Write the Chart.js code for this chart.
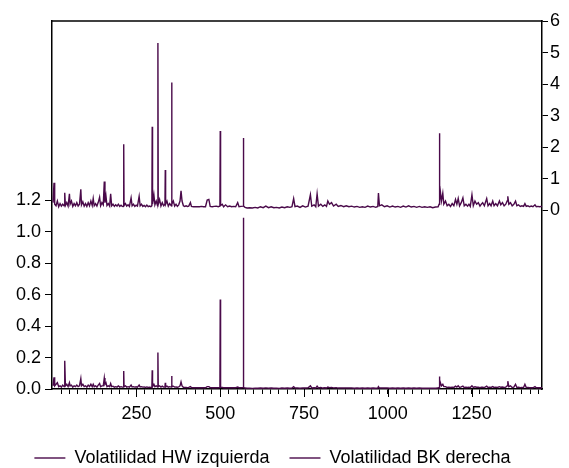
<!DOCTYPE html>
<html>
<head>
<meta charset="utf-8">
<script src="https://cdn.jsdelivr.net/npm/chart.js@4.4.0/dist/chart.umd.min.js"></script>
<style>
  html, body { margin: 0; padding: 0; background: #fff; }
  #wrap { width: 569px; height: 468px; }
</style>
</head>
<body>
<div id="wrap"><canvas id="volChart" width="569" height="468"></canvas></div>
<script>
const obs = [
  1, 4, 6, 10, 14, 18, 22, 26, 30, 34, 36, 38, 42, 46, 50, 52, 56, 60, 64, 68,
  72, 76, 80, 84, 86, 90, 94, 98, 102, 106, 110, 114, 118, 121, 124, 128, 132, 136, 140, 143,
  147, 151, 154, 156, 159, 162, 166, 170, 173, 176, 180, 184, 188, 192, 196, 200, 204, 208, 211, 212,
  213, 217, 221, 225, 229, 234, 237, 241, 245, 249, 253, 258, 261, 265, 269, 273, 277, 281, 285, 289,
  293, 296, 297, 298, 302, 305, 309, 313, 314, 315, 319, 323, 327, 331, 335, 336, 337, 341, 345, 349,
  354, 355, 356, 360, 364, 368, 372, 376, 380, 383, 386, 390, 394, 398, 402, 406, 411, 414, 420, 426,
  432, 438, 444, 450, 456, 461, 466, 470, 476, 482, 488, 494, 499, 500, 501, 506, 510, 516, 522, 528,
  534, 540, 546, 552, 556, 562, 568, 569, 570, 574, 580, 588, 596, 604, 612, 620, 628, 636, 644, 652,
  660, 668, 676, 684, 692, 700, 708, 714, 719, 723, 730, 738, 746, 754, 762, 769, 773, 780, 785, 789,
  793, 800, 806, 812, 817, 821, 826, 832, 838, 846, 852, 860, 868, 876, 884, 892, 900, 908, 916, 924,
  932, 940, 948, 956, 964, 970, 972, 975, 982, 990, 998, 1006, 1014, 1022, 1030, 1038, 1046, 1054, 1062, 1070,
  1078, 1086, 1094, 1102, 1110, 1118, 1126, 1134, 1142, 1150, 1153, 1154, 1155, 1157, 1160, 1164, 1167, 1172, 1177, 1182,
  1187, 1192, 1197, 1202, 1206, 1210, 1214, 1219, 1224, 1228, 1233, 1238, 1242, 1246, 1251, 1255, 1260, 1265, 1270, 1275,
  1279, 1283, 1288, 1295, 1299, 1304, 1308, 1313, 1317, 1322, 1327, 1333, 1337, 1342, 1347, 1352, 1356, 1358, 1361, 1366,
  1371, 1376, 1381, 1385, 1390, 1395, 1400, 1405, 1409, 1413, 1418, 1423, 1428, 1433, 1439, 1443, 1448, 1453, 1458, 1460
];

// Volatilidad HW (left axis)
const hwValues = [
  0.02, 0.075, 0.02, 0.03, 0.04, 0.015, 0.02, 0.012, 0.025, 0.015, 0.18, 0.02, 0.03, 0.015, 0.04, 0.02, 0.025, 0.012, 0.02, 0.015,
  0.025, 0.015, 0.02, 0.066, 0.02, 0.03, 0.015, 0.02, 0.012, 0.025, 0.015, 0.03, 0.015, 0.03, 0.015, 0.02, 0.012, 0.025, 0.035, 0.015,
  0.02, 0.02, 0.07, 0.03, 0.04, 0.015, 0.02, 0.015, 0.035, 0.015, 0.018, 0.012, 0.015, 0.012, 0.02, 0.012, 0.015, 0.012, 0.013, 0.115,
  0.015, 0.02, 0.012, 0.015, 0.012, 0.025, 0.013, 0.015, 0.012, 0.014, 0.012, 0.025, 0.013, 0.015, 0.012, 0.013, 0.01, 0.013, 0.01, 0.012,
  0.01, 0.012, 0.12, 0.015, 0.03, 0.015, 0.02, 0.012, 0.233, 0.015, 0.02, 0.012, 0.018, 0.012, 0.013, 0.04, 0.013, 0.018, 0.012, 0.015,
  0.012, 0.083, 0.015, 0.018, 0.012, 0.013, 0.011, 0.013, 0.02, 0.045, 0.02, 0.011, 0.01, 0.01, 0.009, 0.01, 0.015, 0.009, 0.008, 0.008,
  0.008, 0.008, 0.009, 0.008, 0.008, 0.015, 0.015, 0.009, 0.008, 0.008, 0.009, 0.008, 0.01, 0.57, 0.012, 0.01, 0.008, 0.009, 0.008, 0.008,
  0.008, 0.008, 0.008, 0.012, 0.008, 0.008, 0.01, 1.09, 0.01, 0.006, 0.005, 0.005, 0.004, 0.005, 0.005, 0.006, 0.005, 0.007, 0.005, 0.006,
  0.005, 0.005, 0.004, 0.006, 0.005, 0.006, 0.005, 0.006, 0.015, 0.006, 0.007, 0.005, 0.007, 0.006, 0.007, 0.02, 0.007, 0.008, 0.006, 0.018,
  0.007, 0.009, 0.006, 0.008, 0.006, 0.012, 0.009, 0.01, 0.007, 0.009, 0.006, 0.007, 0.006, 0.007, 0.006, 0.006, 0.005, 0.006, 0.005, 0.006,
  0.005, 0.006, 0.005, 0.006, 0.005, 0.006, 0.015, 0.006, 0.007, 0.006, 0.006, 0.005, 0.006, 0.005, 0.006, 0.005, 0.006, 0.005, 0.006, 0.005,
  0.006, 0.005, 0.006, 0.005, 0.005, 0.005, 0.005, 0.005, 0.005, 0.006, 0.01, 0.08, 0.02, 0.04, 0.02, 0.03, 0.015, 0.015, 0.01, 0.012,
  0.01, 0.012, 0.01, 0.018, 0.012, 0.02, 0.01, 0.013, 0.018, 0.01, 0.011, 0.01, 0.012, 0.009, 0.02, 0.01, 0.014, 0.011, 0.012, 0.009,
  0.011, 0.012, 0.009, 0.018, 0.01, 0.012, 0.01, 0.015, 0.01, 0.012, 0.01, 0.015, 0.011, 0.013, 0.01, 0.012, 0.02, 0.05, 0.015, 0.02,
  0.01, 0.012, 0.03, 0.01, 0.012, 0.009, 0.01, 0.009, 0.03, 0.009, 0.01, 0.008, 0.009, 0.008, 0.015, 0.008, 0.009, 0.008, 0.008, 0.008
];

// Volatilidad BK (right axis)
const bkValues = [
  0.25, 0.88, 0.2, 0.15, 0.3, 0.12, 0.22, 0.14, 0.2, 0.15, 0.56, 0.16, 0.25, 0.14, 0.53, 0.2, 0.3, 0.13, 0.22, 0.15,
  0.25, 0.14, 0.2, 0.67, 0.18, 0.28, 0.14, 0.22, 0.13, 0.25, 0.15, 0.3, 0.16, 0.38, 0.15, 0.22, 0.14, 0.26, 0.42, 0.15,
  0.25, 0.18, 0.92, 0.25, 0.46, 0.16, 0.22, 0.14, 0.53, 0.15, 0.2, 0.13, 0.18, 0.14, 0.2, 0.13, 0.17, 0.13, 0.14, 2.1,
  0.16, 0.22, 0.14, 0.18, 0.13, 0.4, 0.15, 0.2, 0.13, 0.17, 0.14, 0.45, 0.15, 0.2, 0.13, 0.16, 0.12, 0.17, 0.12, 0.14,
  0.12, 0.15, 2.65, 0.2, 0.5, 0.18, 0.3, 0.15, 5.3, 0.2, 0.35, 0.14, 0.25, 0.15, 0.2, 1.28, 0.2, 0.3, 0.14, 0.22,
  0.15, 4.05, 0.2, 0.3, 0.14, 0.2, 0.13, 0.18, 0.3, 0.62, 0.3, 0.15, 0.13, 0.15, 0.13, 0.14, 0.25, 0.13, 0.12, 0.12,
  0.12, 0.12, 0.13, 0.12, 0.12, 0.33, 0.35, 0.13, 0.12, 0.13, 0.14, 0.12, 0.14, 2.52, 0.16, 0.2, 0.12, 0.18, 0.12, 0.14,
  0.12, 0.13, 0.12, 0.25, 0.12, 0.13, 0.14, 2.3, 0.14, 0.1, 0.08, 0.09, 0.08, 0.1, 0.08, 0.12, 0.09, 0.14, 0.09, 0.12,
  0.09, 0.1, 0.08, 0.11, 0.09, 0.12, 0.1, 0.12, 0.38, 0.12, 0.14, 0.1, 0.15, 0.11, 0.14, 0.5, 0.14, 0.18, 0.12, 0.53,
  0.14, 0.2, 0.13, 0.18, 0.13, 0.3, 0.2, 0.25, 0.14, 0.2, 0.13, 0.16, 0.12, 0.15, 0.12, 0.14, 0.11, 0.13, 0.1, 0.12,
  0.1, 0.14, 0.11, 0.13, 0.1, 0.13, 0.55, 0.15, 0.18, 0.12, 0.15, 0.11, 0.14, 0.11, 0.13, 0.1, 0.14, 0.11, 0.15, 0.11,
  0.13, 0.1, 0.13, 0.1, 0.12, 0.1, 0.12, 0.09, 0.11, 0.12, 0.2, 2.45, 0.3, 0.58, 0.3, 0.55, 0.2, 0.3, 0.15, 0.2,
  0.13, 0.22, 0.15, 0.35, 0.2, 0.38, 0.15, 0.25, 0.4, 0.15, 0.2, 0.14, 0.2, 0.13, 0.5, 0.15, 0.3, 0.2, 0.25, 0.14,
  0.2, 0.25, 0.15, 0.38, 0.15, 0.22, 0.15, 0.3, 0.15, 0.22, 0.15, 0.3, 0.18, 0.25, 0.15, 0.2, 0.3, 0.45, 0.2, 0.25,
  0.15, 0.2, 0.3, 0.15, 0.18, 0.13, 0.15, 0.13, 0.22, 0.13, 0.15, 0.12, 0.14, 0.12, 0.18, 0.12, 0.13, 0.12, 0.13, 0.12
];

const leftTicks = [0, 0.2, 0.4, 0.6, 0.8, 1.0, 1.2];
const rightTicks = [0, 1, 2, 3, 4, 5, 6];
const xMajorTicks = [250, 500, 750, 1000, 1250];

const lineColor = '#4a0a4a';
const fontFamily = '"Liberation Sans", Arial, sans-serif';

// top frame line and longer major ticks on the x axis
const framePlugin = {
    id: 'frame',
    afterLayout(chart) {
        // the original legend sits a bit left of centre
        if (chart.legend) chart.legend.right -= 24;
    },
    afterDraw(chart) {
        const ctx = chart.ctx;
        const area = chart.chartArea;
        const xScale = chart.scales.x;
        ctx.save();
        ctx.strokeStyle = '#000';
        ctx.lineWidth = 1.5;
        ctx.beginPath();
        ctx.moveTo(area.left - 0.75, area.top);
        ctx.lineTo(area.right + 0.75, area.top);
        ctx.stroke();
        ctx.lineWidth = 1;
        ctx.beginPath();
        xMajorTicks.forEach(v => {
            const px = Math.round(xScale.getPixelForValue(v)) + 0.5;
            ctx.moveTo(px, area.bottom);
            ctx.lineTo(px, area.bottom + 8);
        });
        ctx.stroke();
        ctx.restore();
    }
};

const ctx = document.getElementById('volChart').getContext('2d');
const volChart = new Chart(ctx, {
    type: 'line',
    data: {
        datasets: [
            {
                label: 'Volatilidad HW izquierda',
                data: obs.map((x, i) => ({ x: x, y: hwValues[i] })),
                yAxisID: 'yLeft',
                borderColor: lineColor,
                backgroundColor: lineColor,
                borderWidth: 1.4,
                pointRadius: 0,
                tension: 0
            },
            {
                label: 'Volatilidad BK derecha',
                data: obs.map((x, i) => ({ x: x, y: bkValues[i] })),
                yAxisID: 'yRight',
                borderColor: lineColor,
                backgroundColor: lineColor,
                borderWidth: 1.4,
                pointRadius: 0,
                tension: 0
            }
        ]
    },
    options: {
        responsive: false,
        animation: false,
        layout: { padding: { top: 21, left: 0, right: 0, bottom: -9 } },
        plugins: {
            tooltip: { enabled: false },
            legend: {
                position: 'bottom',
                labels: {
                    usePointStyle: true,
                    pointStyle: 'line',
                    pointStyleWidth: 31,
                    color: '#000',
                    padding: 20,
                    font: { family: fontFamily, size: 18 }
                }
            }
        },
        scales: {
            x: {
                type: 'linear',
                min: -2,
                max: 1460,
                afterBuildTicks: axis => {
                    const t = [];
                    for (let v = 25; v <= 1450; v += 25) t.push({ value: v });
                    axis.ticks = t;
                },
                afterFit: axis => { axis.height = 40; },
                ticks: {
                    autoSkip: false,
                    maxRotation: 0,
                    padding: 9,
                    color: '#000',
                    font: { family: fontFamily, size: 18 },
                    callback: v => (v % 250 === 0 ? String(v) : '')
                },
                grid: { drawOnChartArea: false, tickLength: 5, color: '#000', tickColor: '#000' },
                border: { color: '#000', width: 1.5 }
            },
            yLeft: {
                type: 'linear',
                position: 'left',
                min: 0,
                max: 2.342,
                afterBuildTicks: axis => { axis.ticks = leftTicks.map(v => ({ value: v })); },
                afterFit: axis => { axis.width = 52; },
                ticks: {
                    padding: 4,
                    color: '#000',
                    font: { family: fontFamily, size: 18 },
                    callback: v => v.toFixed(1)
                },
                grid: { drawOnChartArea: false, tickLength: 7, color: '#000', tickColor: '#000' },
                border: { color: '#000', width: 1.5 }
            },
            yRight: {
                type: 'linear',
                position: 'right',
                min: -5.65,
                max: 6,
                afterBuildTicks: axis => { axis.ticks = rightTicks.map(v => ({ value: v })); },
                afterFit: axis => { axis.width = 27; },
                ticks: {
                    padding: 2,
                    color: '#000',
                    font: { family: fontFamily, size: 18 },
                    callback: v => String(v)
                },
                grid: { drawOnChartArea: false, tickLength: 6, color: '#000', tickColor: '#000' },
                border: { color: '#000', width: 1.5 }
            }
        }
    },
    plugins: [framePlugin]
});
</script>
</body>
</html>
